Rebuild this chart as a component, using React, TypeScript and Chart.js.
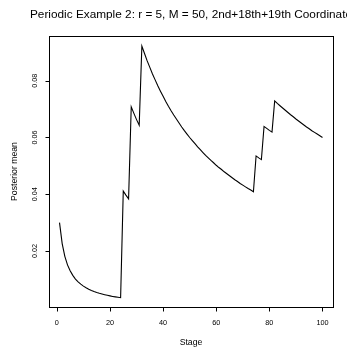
import React, { useEffect, useRef } from "react";
import { Chart, registerables } from "chart.js";

Chart.register(...registerables);

const titleText = "Periodic Example 2: r = 5, M = 50, 2nd+18th+19th Coordinate";
const xLabel = "Stage";
const yLabel = "Posterior mean";

const stages = Array.from({ length: 100 }, (_, i) => i + 1);

const posteriorMean = [
  0.0300, 0.0226, 0.0181, 0.0151, 0.0130, 0.0114, 0.0101, 0.00913, 0.00830, 0.00761,
  0.00703, 0.00653, 0.00610, 0.00572, 0.00538, 0.00508, 0.00482, 0.00458, 0.00436, 0.00416,
  0.00398, 0.00382, 0.00366, 0.00352, 0.0411, 0.0397, 0.0384, 0.0708, 0.0685, 0.0663,
  0.0643, 0.0922, 0.0896, 0.0870, 0.0847, 0.0824, 0.0803, 0.0782, 0.0763, 0.0745,
  0.0727, 0.0710, 0.0694, 0.0679, 0.0665, 0.0651, 0.0637, 0.0624, 0.0612, 0.0600,
  0.0589, 0.0578, 0.0567, 0.0557, 0.0547, 0.0537, 0.0528, 0.0519, 0.0511, 0.0502,
  0.0494, 0.0487, 0.0479, 0.0472, 0.0465, 0.0458, 0.0451, 0.0445, 0.0438, 0.0432,
  0.0426, 0.0420, 0.0415, 0.0409, 0.0535, 0.0528, 0.0522, 0.0639, 0.0632, 0.0625,
  0.0619, 0.0729, 0.0720, 0.0712, 0.0704, 0.0696, 0.0688, 0.0680, 0.0673, 0.0665,
  0.0658, 0.0651, 0.0644, 0.0637, 0.0631, 0.0624, 0.0618, 0.0612, 0.0606, 0.0600,
];

const xTicks = [0, 20, 40, 60, 80, 100];
const yTicks = [0.02, 0.04, 0.06, 0.08];
const yTickLabels = ["0.02", "0.04", "0.06", "0.08"];

const FONT = '"Liberation Sans", Arial, Helvetica, sans-serif';

const rAxesPlugin = {
  id: "rAxes",
  afterDraw(chart: any) {
    const ctx = chart.ctx as CanvasRenderingContext2D;
    const area = chart.chartArea;
    const xs = chart.scales.x;
    const ys = chart.scales.y;
    ctx.save();
    ctx.strokeStyle = "#000";
    ctx.fillStyle = "#000";
    ctx.lineWidth = 1;
    // box
    ctx.strokeRect(
      Math.round(area.left) + 0.5,
      Math.round(area.top) + 0.5,
      Math.round(area.right - area.left),
      Math.round(area.bottom - area.top)
    );
    const by = Math.round(area.bottom) + 0.5;
    const lx = Math.round(area.left) + 0.5;
    ctx.beginPath();
    const x0 = Math.round(xs.getPixelForValue(xTicks[0])) + 0.5;
    const x1 = Math.round(xs.getPixelForValue(xTicks[xTicks.length - 1])) + 0.5;
    ctx.moveTo(x0, by);
    ctx.lineTo(x1, by);
    xTicks.forEach((v) => {
      const px = Math.round(xs.getPixelForValue(v)) + 0.5;
      ctx.moveTo(px, by);
      ctx.lineTo(px, by + 4);
    });
    yTicks.forEach((v) => {
      const py = Math.round(ys.getPixelForValue(v)) + 0.5;
      ctx.moveTo(lx, py);
      ctx.lineTo(lx - 4, py);
    });
    ctx.stroke();
    ctx.font = `7.3px ${FONT}`;
    ctx.textAlign = "center";
    ctx.textBaseline = "middle";
    xTicks.forEach((v) => {
      ctx.fillText(String(v), xs.getPixelForValue(v), 323);
    });
    yTicks.forEach((v, i) => {
      ctx.save();
      ctx.translate(35, ys.getPixelForValue(v));
      ctx.rotate(-Math.PI / 2);
      ctx.fillText(yTickLabels[i], 0, 0);
      ctx.restore();
    });
    ctx.font = `8.7px ${FONT}`;
    ctx.fillText(xLabel, (area.left + area.right) / 2, 343);
    ctx.save();
    ctx.translate(15, (area.top + area.bottom) / 2);
    ctx.rotate(-Math.PI / 2);
    ctx.fillText(yLabel, 0, 0);
    ctx.restore();
    ctx.font = `11.8px ${FONT}`;
    ctx.textBaseline = "alphabetic";
    ctx.fillText(titleText, (area.left + area.right) / 2, 18);
    ctx.restore();
  },
};

export default function App() {
  const canvasRef = useRef<HTMLCanvasElement | null>(null);

  useEffect(() => {
    document.body.style.margin = "0";
    const canvas = canvasRef.current;
    if (!canvas) return;
    const chart = new Chart(canvas, {
      type: "line",
      data: {
        datasets: [
          {
            data: stages.map((s, i) => ({ x: s, y: posteriorMean[i] })),
            borderColor: "#000",
            borderWidth: 1.1,
            pointRadius: 0,
            tension: 0,
            fill: false,
          },
        ],
      },
      options: {
        responsive: false,
        animation: false,
        devicePixelRatio: 1,
        layout: { padding: { left: 49, top: 36, right: 14, bottom: 45 } },
        plugins: {
          legend: { display: false },
          title: { display: false },
          tooltip: { enabled: false },
        },
        scales: {
          x: { type: "linear", display: false, min: -2.96, max: 103.96 },
          y: { type: "linear", display: false, min: 0.00025, max: 0.09577 },
        },
      },
      plugins: [rAxesPlugin],
    });
    return () => chart.destroy();
  }, []);

  return (
    <div style={{ position: "absolute", left: 0, top: 0, width: 347, height: 352, background: "#fff" }}>
      <canvas ref={canvasRef} width={347} height={352} style={{ display: "block" }} />
    </div>
  );
}
